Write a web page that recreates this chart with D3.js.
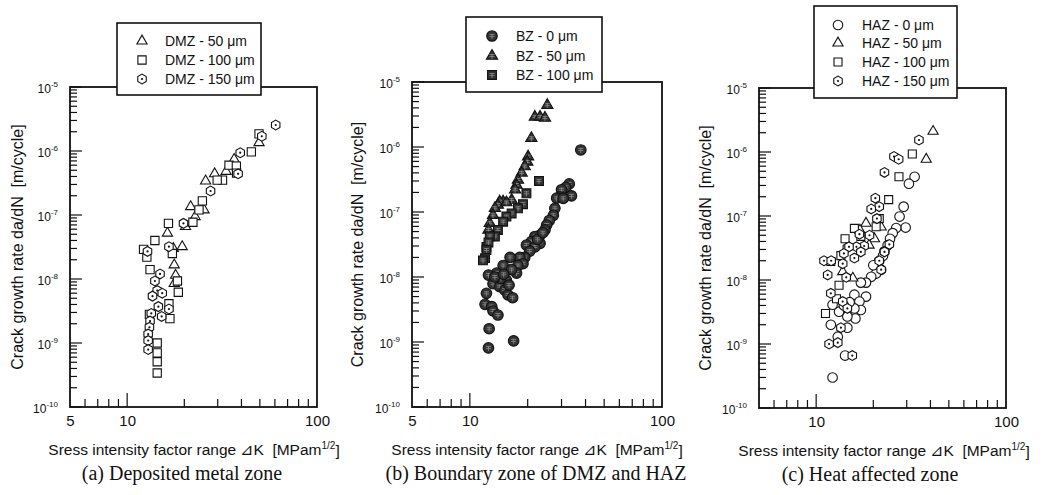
<!DOCTYPE html>
<html>
<head>
<meta charset="utf-8">
<script src="https://cdn.jsdelivr.net/npm/d3@7"></script>
<style>
  body { margin: 0; background: #fff; }
  svg { display: block; font-family: "Liberation Sans", Arial, sans-serif; }
  .pre { white-space: pre; }
</style>
</head>
<body>
<svg id="chart" width="1043" height="495"></svg>
<script>
// Values: [dK (MPa m^1/2), da/dN (m/cycle)]

var kTicksAB = [5, 10, 100];
var kTicksC = [10, 100];
var rateTicks = [1e-10, 1e-9, 1e-8, 1e-7, 1e-6, 1e-5];
var kMinor = [6, 7, 8, 9, 20, 30, 40, 50, 60, 70, 80, 90];

// (a) deposited metal zone
var dmz50 = [[49.5,1.35e-6],[36.6,7.4e-7],[33.2,4.8e-7],[28.9,4.4e-7],[25.9,3.4e-7],
             [25.4,1.2e-7],[21.6,1.35e-7],[22.8,9.4e-8],[20.3,6.6e-8],[16.3,5.2e-8],
             [19.5,3.2e-8],[17.5,3.0e-8],[17.7,1.66e-8],[18.0,1.14e-8],[17.7,8.5e-9]];
var dmz100 = [[49.5,1.85e-6],[45.1,9.7e-7],[34.4,6.0e-7],[37.6,5.8e-7],[37.7,4.5e-7],
              [31.8,3.5e-7],[29.8,3.5e-7],[24.9,1.66e-7],[23.9,1.2e-7],[22.2,7.7e-8],
              [16.5,7.4e-8],[14.0,4.0e-8],[17.3,2.5e-8],[12.2,2.9e-8],[12.7,2.2e-8],
              [13.2,1.4e-8],[18.4,9.3e-9],[18.6,6.2e-9],[16.6,4.1e-9],[16.8,2.4e-9],
              [13.1,2.8e-9],[14.4,1.0e-9],[14.4,7.0e-10],[14.4,5.1e-10],[14.4,3.4e-10]];
var dmz150 = [[60.6,2.55e-6],[51.2,1.7e-6],[39.4,9.4e-7],[38.4,4.4e-7],[27.5,2.37e-7],
              [19.8,7.4e-8],[16.6,3.2e-8],[12.8,2.7e-8],[14.9,1.2e-8],[14.0,9.3e-9],
              [14.4,6.6e-9],[15.3,6.0e-9],[13.6,5.4e-9],[14.6,3.7e-9],[16.6,3.4e-9],
              [13.4,2.9e-9],[15.2,2.6e-9],[13.2,2.2e-9],[13.1,1.76e-9],[12.9,1.38e-9],
              [12.9,1.09e-9],[12.9,7.9e-10]];

// (b) boundary zone
var bz0 = [[37.8,9.0e-7],[32.9,2.7e-7],[31.6,2.4e-7],[33.8,1.77e-7],[30.0,2.2e-7],
           [29.4,1.7e-7],[28.3,1.63e-7],[30.6,1.62e-7],[27.7,1.14e-7],[27.2,8.9e-8],
           [25.9,7.4e-8],[25.1,6.3e-8],[24.6,5.3e-8],[23.2,4.4e-8],[21.8,4.2e-8],
           [20.9,3.5e-8],[19.7,3.1e-8],[23.2,3.3e-8],[21.8,2.9e-8],[20.5,2.5e-8],
           [19.3,2.0e-8],[18.2,2.0e-8],[18.9,1.6e-8],[17.8,1.5e-8],[16.2,2.0e-8],
           [14.9,1.5e-8],[17.5,1.15e-8],[16.5,1.3e-8],[15.5,8.9e-9],[13.8,1.15e-8],
           [12.5,1.07e-8],[13.2,7.9e-9],[14.3,7.1e-9],[15.2,6.3e-9],[12.2,5.6e-9],
           [15.8,5.3e-9],[16.7,4.8e-9],[12.0,3.8e-9],[13.0,3.5e-9],[13.2,3.0e-9],
           [14.0,2.6e-9],[12.6,1.6e-9],[16.9,1.04e-9],[12.5,8.1e-10],[14.5,9.5e-9],
           [13.5,1.0e-8],[15.0,1.1e-8],[16.0,7.5e-9],[22.5,3.8e-8],[24.0,4.8e-8]];
var bz50 = [[25.3,4.4e-6],[21.8,2.9e-6],[23.2,2.9e-6],[24.6,2.8e-6],[20.9,1.36e-6],
            [20.1,7.1e-7],[19.9,5.9e-7],[19.3,5.0e-7],[18.6,4.0e-7],[17.8,3.1e-7],
            [17.5,2.6e-7],[17.2,2.2e-7],[16.5,1.53e-7],[14.9,1.44e-7],[14.3,1.44e-7],
            [14.0,1.28e-7],[13.5,1.14e-7],[13.2,8.9e-8],[12.7,6.7e-8],[12.5,5.3e-8],
            [15.5,1.4e-7]];
var bz100 = [[22.9,3.0e-7],[19.7,1.94e-7],[18.9,1.32e-7],[17.8,1.14e-7],[16.5,9.5e-8],
             [15.5,8.5e-8],[14.9,7.1e-8],[14.0,5.3e-8],[13.5,4.2e-8],[12.7,4.2e-8],
             [12.2,2.9e-8],[12.5,3.4e-8],[12.2,2.6e-8],[12.0,1.95e-8],[11.7,1.8e-8]];

// (c) heat affected zone
var haz0 = [[33.0,4.1e-7],[30.8,3.2e-7],[28.9,1.4e-7],[27.5,9.8e-8],[29.6,6.6e-8],
            [26.4,6.5e-8],[25.3,5.4e-8],[24.5,4.4e-8],[23.8,3.5e-8],[22.9,2.8e-8],
            [22.0,1.45e-8],[20.7,1.26e-8],[19.5,1.12e-8],[18.3,9.1e-9],[17.2,9.1e-9],
            [18.3,5.5e-9],[15.9,5.9e-9],[16.9,4.6e-9],[17.2,3.4e-9],[15.9,3.6e-9],
            [16.1,2.5e-9],[14.6,2.7e-9],[13.2,3.2e-9],[11.95,2.0e-9],[14.6,1.8e-9],
            [13.0,1.3e-9],[14.2,6.6e-10],[12.2,3.0e-10],[12.2,4.1e-9],[21.5,2.0e-8],
            [22.5,2.4e-8],[20.0,1.7e-8],[15.0,4.5e-9],[14.0,4.0e-9]];
var haz50 = [[41.3,2.1e-6],[38.0,7.7e-7],[18.3,7.7e-8],[22.0,6.7e-8],[20.3,4.4e-8],
             [17.0,6.0e-8],[15.6,1.07e-8],[13.8,1.35e-8],[19.0,3.5e-8]];
var haz100 = [[32.1,9.3e-7],[27.3,4.1e-7],[24.1,1.8e-7],[21.5,9.1e-8],[15.9,6.4e-8],
              [20.7,6.8e-8],[14.2,4.4e-8],[17.2,4.8e-8],[13.5,2.4e-8],[11.95,1.95e-8],
              [13.2,8.3e-9],[12.8,5.1e-9],[11.2,3.0e-9]];
var haz150 = [[34.8,1.54e-6],[25.7,8.5e-7],[27.2,7.7e-7],[22.9,4.8e-7],[20.5,1.9e-7],
              [21.5,1.4e-7],[19.5,1.29e-7],[20.9,9.1e-8],[19.1,5.0e-8],[16.9,5.2e-8],
              [17.9,3.4e-8],[16.3,3.3e-8],[14.6,3.2e-8],[24.3,3.6e-8],[22.9,2.75e-8],
              [21.5,2.0e-8],[22.0,1.45e-8],[14.9,3.3e-8],[17.2,2.75e-8],[14.0,2.6e-8],
              [11.0,2.0e-8],[12.0,2.0e-8],[13.8,1.8e-8],[15.9,2.2e-8],[11.5,1.2e-8],
              [14.4,1.1e-8],[11.95,6.2e-9],[13.8,4.6e-9],[14.6,3.6e-9],[13.5,1.8e-9],
              [11.7,1.0e-9],[13.0,1.05e-9],[15.5,6.6e-10]];

var yTitle = "Crack growth rate da/dN  [m/cycle]";
var xTitle = "Sress intensity factor range \u22BFK  [MPam";
var captions = ["(a) Deposited metal zone", "(b) Boundary zone of DMZ and HAZ", "(c) Heat affected zone"];


var svg = d3.select('#chart');
var tickLayer;   // filled in after all panels, so the ticks sit on top


function markerPath(shape, size){
    /* Return an svg path for one marker centred on 0,0 */
    if (shape === 'hex'){
        let r = Math.sqrt(size / 2.598);
        let pts = d3.range(6).map(function(i){
            let a = Math.PI / 6 + i * Math.PI / 3;
            return [r * Math.cos(a), r * Math.sin(a)];
        });
        return 'M' + pts.join('L') + 'Z';
    }
    let types = {circle: d3.symbolCircle, triangle: d3.symbolTriangle, square: d3.symbolSquare};
    return d3.symbol().type(types[shape]).size(size)();
}

function addMarker(sel, s){
    sel.append('path')
       .attr('d', markerPath(s.shape, s.size))
       .attr('fill', s.fill)
       .attr('stroke', '#111')
       .attr('stroke-width', s.sw);
    if (s.shape === 'hex'){
        sel.append('circle').attr('r', 1.1).attr('fill', '#111');
    }
    if (s.cross){
        // light hatch seen on the solid markers of panel (b)
        sel.append('path')
           .attr('d', 'M-2.5,0.5h5M0,-2v5M-2.5,-1.5h5')
           .attr('stroke', '#9a9a9a').attr('stroke-width', 0.7).attr('fill', 'none');
    }
}

function minorTicks(lo, hi){
    // 2..9 of every decade from 10^lo up to 10^hi
    let out = [];
    for (let e = lo; e < hi; e++){
        for (let m = 2; m <= 9; m++){
            out.push(m * Math.pow(10, e));
        }
    }
    return out;
}

function drawTicks(p, x, y){
    /* Inward tick marks on the left and bottom edges, placed by the panel scales */
    let yt = minorTicks(-10, -5).map(v => ({v: v, len: 7}))
        .concat(rateTicks.map(v => ({v: v, len: 12})));
    let xt = kMinor.map(v => ({v: v, len: 8})).concat([{v: 10, len: 14}]);

    let t = tickLayer.append('g');
    t.selectAll('rect.yt')
     .data(yt)
     .enter()
     .append('rect')
     .attr('class', 'yt')
     .attr('x', p.left)
     .attr('y', d => y(d.v) - 0.6)
     .attr('width', d => d.len)
     .attr('height', 1.2)
     .attr('fill', '#111');
    t.selectAll('rect.xt')
     .data(xt)
     .enter()
     .append('rect')
     .attr('class', 'xt')
     .attr('x', d => x(d.v) - 0.6)
     .attr('y', d => p.bottom - d.len)
     .attr('width', 1.2)
     .attr('height', d => d.len)
     .attr('fill', '#111');
}

function drawLabels(g, p, x, y){
    /* Tick labels from d3 axes */
    let yLab = g.append('g').attr('transform', `translate(${p.left},0)`)
        .call(d3.axisLeft(y).tickValues(rateTicks).tickSize(0).tickPadding(12));
    yLab.selectAll('text').each(function(d){
        let t = d3.select(this).text(null)
            .attr('font-size', 12).attr('fill', '#111').attr('dy', '0.45em');
        t.append('tspan').text('10');
        t.append('tspan').attr('font-size', 8).attr('dy', '-0.75em')
         .text(String(Math.round(Math.log10(d))));
    });

    let xLab = g.append('g').attr('transform', `translate(0,${p.bottom})`)
        .call(d3.axisBottom(x).tickValues(p.kLabels).tickSize(0).tickPadding(8).tickFormat(d3.format('d')));
    xLab.selectAll('text').attr('font-size', 15).attr('fill', '#111');

    g.selectAll('.domain').remove();
    g.selectAll('.tick line').remove();
}

function drawPanel(p){
    let g = svg.append('g');

    let x = d3.scaleLog().domain([5, 100]).range([p.left, p.right]);
    let y = d3.scaleLog().domain([1e-10, 1e-5]).range([p.bottom, p.top]);

    g.append('rect')
     .attr('x', p.left).attr('y', p.top)
     .attr('width', p.right - p.left).attr('height', p.bottom - p.top)
     .attr('fill', 'none').attr('stroke', '#111').attr('stroke-width', 1.8);

    drawLabels(g, p, x, y);

    // points
    p.series.forEach(function(s){
        g.append('g').selectAll('g')
         .data(s.data)
         .enter()
         .append('g')
         .attr('transform', d => `translate(${x(d[0])},${y(d[1])})`)
         .each(function(){ addMarker(d3.select(this), s); });
    });

    // legend box, sitting over the top edge of the frame
    let lg = p.legend;
    g.append('rect')
     .attr('x', lg.x0).attr('y', lg.y0)
     .attr('width', lg.x1 - lg.x0).attr('height', lg.y1 - lg.y0)
     .attr('fill', '#fff').attr('stroke', '#111').attr('stroke-width', 1.6);
    p.series.forEach(function(s, i){
        let row = g.append('g').attr('transform', `translate(${lg.sx},${lg.rows[i]})`);
        addMarker(row, s);
        g.append('text')
         .attr('x', lg.tx).attr('y', lg.rows[i]).attr('dy', '0.36em')
         .attr('font-size', 14).attr('fill', '#111')
         .text(s.label);
    });

    // axis titles and caption
    g.append('text').attr('class', 'pre')
     .attr('transform', `translate(${p.yTitleX},${(p.top + p.bottom) / 2}) rotate(-90)`)
     .attr('text-anchor', 'middle').attr('dy', '0.36em')
     .attr('font-size', 16).attr('fill', '#111')
     .text(yTitle);

    let xt = g.append('text').attr('class', 'pre')
     .attr('x', p.xTitleX).attr('y', p.bottom + 48)
     .attr('text-anchor', 'middle')
     .attr('font-size', 15.5).attr('fill', '#111');
    xt.append('tspan').text(xTitle);
    xt.append('tspan').attr('font-size', 10).attr('dy', '-0.6em').text('1/2');
    xt.append('tspan').attr('dy', '0.42em').text(']');

    g.append('text')
     .attr('x', p.capX).attr('y', p.bottom + 73)
     .attr('text-anchor', 'middle')
     .attr('font-family', '"Liberation Serif", "Times New Roman", serif')
     .attr('font-size', 20).attr('fill', '#111')
     .text(p.caption);

    return {p: p, x: x, y: y};
}


var openSym = {fill: '#fff', sw: 1.1, cross: false};
var solidSym = {fill: '#333', sw: 1.1, cross: true};

var panels = [];

panels.push(drawPanel({
    left: 70, right: 317, top: 87, bottom: 407,
    kLabels: kTicksAB, yTitleX: 17, xTitleX: 194, capX: 182, caption: captions[0],
    legend: {x0: 117, x1: 261, y0: 23, y1: 95, sx: 142, tx: 165, rows: [41, 60, 79]},
    series: [
        Object.assign({data: dmz50, shape: 'triangle', size: 45, label: 'DMZ - 50 \u03BCm'}, openSym),
        Object.assign({data: dmz100, shape: 'square', size: 68, label: 'DMZ - 100 \u03BCm'}, openSym),
        Object.assign({data: dmz150, shape: 'hex', size: 62, label: 'DMZ - 150 \u03BCm'}, openSym)
    ]
}));

panels.push(drawPanel({
    left: 412, right: 662, top: 82, bottom: 407,
    kLabels: kTicksAB, yTitleX: 357, xTitleX: 537, capX: 536, caption: captions[1],
    legend: {x0: 466, x1: 602, y0: 17, y1: 92, sx: 492, tx: 516, rows: [36, 56, 75]},
    series: [
        Object.assign({data: bz0, shape: 'circle', size: 88, label: 'BZ - 0 \u03BCm'}, solidSym),
        Object.assign({data: bz50, shape: 'triangle', size: 55, label: 'BZ - 50 \u03BCm'}, solidSym),
        Object.assign({data: bz100, shape: 'square', size: 78, label: 'BZ - 100 \u03BCm'}, solidSym)
    ]
}));

panels.push(drawPanel({
    left: 759, right: 1006, top: 88, bottom: 408,
    kLabels: kTicksC, yTitleX: 705, xTitleX: 884, capX: 870, caption: captions[2],
    legend: {x0: 814, x1: 957, y0: 6, y1: 98, sx: 838, tx: 862, rows: [25, 43, 62, 81]},
    series: [
        Object.assign({data: haz0, shape: 'circle', size: 72, label: 'HAZ - 0 \u03BCm'}, openSym),
        Object.assign({data: haz50, shape: 'triangle', size: 45, label: 'HAZ - 50 \u03BCm'}, openSym),
        Object.assign({data: haz100, shape: 'square', size: 64, label: 'HAZ - 100 \u03BCm'}, openSym),
        Object.assign({data: haz150, shape: 'hex', size: 62, label: 'HAZ - 150 \u03BCm'}, openSym)
    ]
}));

// tick marks last, on their own layer
tickLayer = svg.append('g').attr('class', 'ticks');
panels.forEach(function(d){ drawTicks(d.p, d.x, d.y); });
</script>
</body>
</html>
